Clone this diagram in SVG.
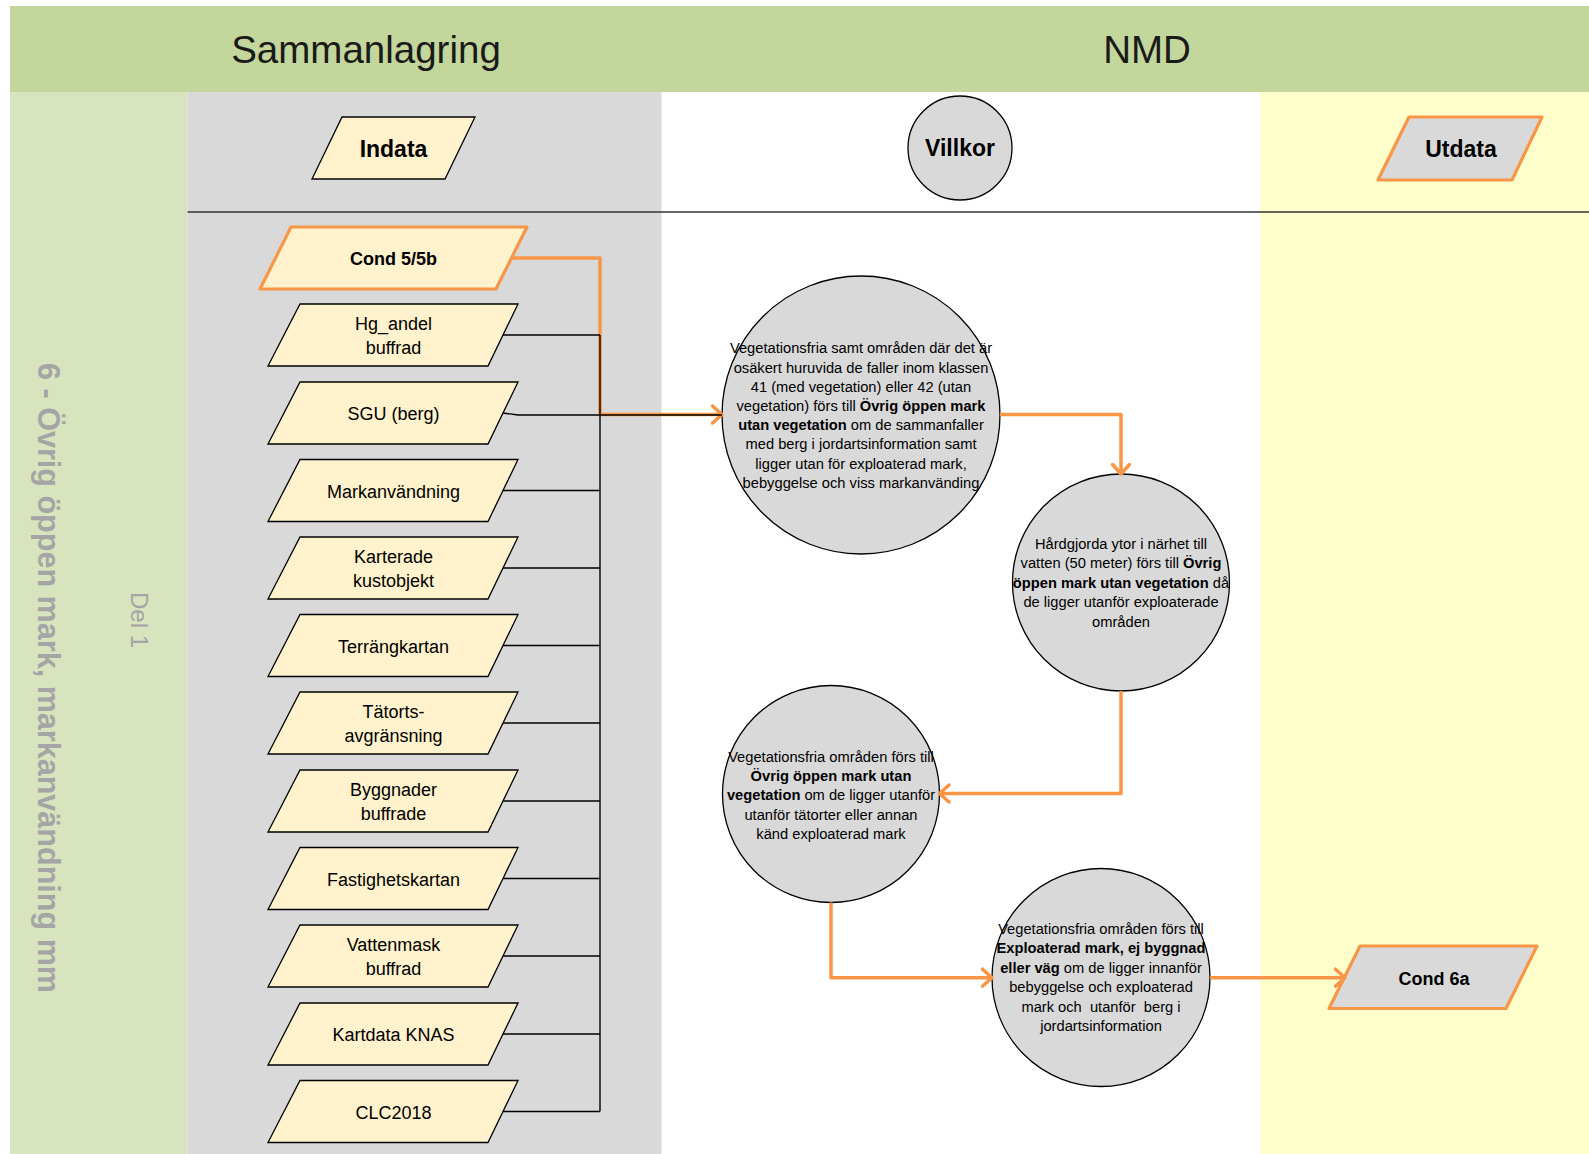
<svg xmlns="http://www.w3.org/2000/svg" width="1589" height="1154" viewBox="0 0 1589 1154">
<defs>
<style>
text{font-family:"Liberation Sans",Arial,sans-serif;fill:#000}
.hdr{font-size:38.5px;text-anchor:middle;fill:#1a1a1a}
.in{fill:#FFF2CC;stroke:#000;stroke-width:1.3}
.inor{fill:#FFF2CC;stroke:#F79646;stroke-width:3.2;stroke-linejoin:round}
.out{fill:#D9D9D9;stroke:#F79646;stroke-width:3.2;stroke-linejoin:round}
.lbl{font-size:18px;text-anchor:middle}
.big{font-size:23px;font-weight:bold;text-anchor:middle}
.circ{fill:#D9D9D9;stroke:#000;stroke-width:1.3}
.ct{font-size:14.7px;text-anchor:middle}
.b{font-weight:bold}
.bus{fill:none;stroke:#000;stroke-width:1.4}
.flow{fill:none;stroke:#F79646;stroke-width:3.5;stroke-linejoin:round}
.side{fill:#A5A5A5;text-anchor:middle}
</style>
<marker id="ah" markerUnits="userSpaceOnUse" markerWidth="16" markerHeight="24" refX="11" refY="10" orient="auto" overflow="visible">
<path d="M1.5,1.5 L11,10 L1.5,18.5" fill="none" stroke="#F79646" stroke-width="3.5" stroke-linecap="round" stroke-linejoin="round"/>
</marker>
</defs>
<g id="background">
<rect x="0" y="0" width="1589" height="1154" fill="#FFFFFF"/>
<rect x="10" y="6" width="1579" height="86" fill="#C3D69B"/>
<rect x="10" y="92" width="177.5" height="1062" fill="#D7E4BD"/>
<rect x="187.5" y="92" width="474" height="1062" fill="#D9D9D9"/>
<rect x="1260" y="92" width="329" height="1062" fill="#FFFFCC"/>
<line x1="187.5" y1="212" x2="1589" y2="212" stroke="#333" stroke-width="1.5"/>
<text class="hdr" x="366" y="63">Sammanlagring</text>
<text class="hdr" x="1147" y="63">NMD</text>
<text class="side" transform="translate(38,678) rotate(90)" font-size="32" font-weight="bold" textLength="630" lengthAdjust="spacingAndGlyphs">6 - Övrig öppen mark, markanvändning mm</text>
<text class="side" transform="translate(131,620) rotate(90)" font-size="24">Del 1</text>
</g>
<g id="indata">
<polygon class="in" points="342,117 475,117 445,179 312,179"/>
<text class="big" x="393.5" y="157">Indata</text>
</g>
<g id="villkor">
<circle class="circ" cx="960" cy="148" r="52"/>
<text class="big" x="960" y="156">Villkor</text>
</g>
<g id="utdata">
<polygon class="out" points="1409,117 1542,117 1512,180 1378,180"/>
<text class="big" x="1461" y="157">Utdata</text>
</g>
<g id="cond55b">
<polygon class="inor" points="291,227 527,227 496,289 260,289"/>
<text class="lbl b" x="393.5" y="264.5">Cond 5/5b</text>
</g>
<g id="hg_andel">
<polygon class="in" points="300,304 518,304 488,366 268,366"/>
<text class="lbl" x="393.5" y="330">Hg_andel</text>
<text class="lbl" x="393.5" y="354">buffrad</text>
</g>
<g id="sgu">
<polygon class="in" points="300,382 518,382 488,444 268,444"/>
<text class="lbl" x="393.5" y="420">SGU (berg)</text>
</g>
<g id="markanvandning">
<polygon class="in" points="300,459.5 518,459.5 488,521.5 268,521.5"/>
<text class="lbl" x="393.5" y="497.5">Markanvändning</text>
</g>
<g id="karterade">
<polygon class="in" points="300,537 518,537 488,599 268,599"/>
<text class="lbl" x="393.5" y="563">Karterade</text>
<text class="lbl" x="393.5" y="587">kustobjekt</text>
</g>
<g id="terrangkartan">
<polygon class="in" points="300,614.5 518,614.5 488,676.5 268,676.5"/>
<text class="lbl" x="393.5" y="652.5">Terrängkartan</text>
</g>
<g id="tatorts">
<polygon class="in" points="300,692 518,692 488,754 268,754"/>
<text class="lbl" x="393.5" y="718">Tätorts-</text>
<text class="lbl" x="393.5" y="742">avgränsning</text>
</g>
<g id="byggnader">
<polygon class="in" points="300,770 518,770 488,832 268,832"/>
<text class="lbl" x="393.5" y="796">Byggnader</text>
<text class="lbl" x="393.5" y="820">buffrade</text>
</g>
<g id="fastighetskartan">
<polygon class="in" points="300,847.5 518,847.5 488,909.5 268,909.5"/>
<text class="lbl" x="393.5" y="885.5">Fastighetskartan</text>
</g>
<g id="vattenmask">
<polygon class="in" points="300,925 518,925 488,987 268,987"/>
<text class="lbl" x="393.5" y="951">Vattenmask</text>
<text class="lbl" x="393.5" y="975">buffrad</text>
</g>
<g id="kartdata">
<polygon class="in" points="300,1003 518,1003 488,1065 268,1065"/>
<text class="lbl" x="393.5" y="1041">Kartdata KNAS</text>
</g>
<g id="clc2018">
<polygon class="in" points="300,1080.5 518,1080.5 488,1142.5 268,1142.5"/>
<text class="lbl" x="393.5" y="1118.5">CLC2018</text>
</g>
<g id="villkor1">
<circle class="circ" cx="861" cy="415" r="139"/>
<text class="ct"><tspan x="861" y="353.3">Vegetationsfria samt områden där det är</tspan><tspan x="861" y="372.5">osäkert huruvida de faller inom klassen</tspan><tspan x="861" y="391.7">41 (med vegetation) eller 42 (utan</tspan><tspan x="861" y="410.9">vegetation) förs till <tspan class="b">Övrig öppen mark</tspan></tspan><tspan x="861" y="430.1"><tspan class="b">utan vegetation</tspan> om de sammanfaller</tspan><tspan x="861" y="449.3">med berg i jordartsinformation samt</tspan><tspan x="861" y="468.5">ligger utan för exploaterad mark,</tspan><tspan x="861" y="487.7">bebyggelse och viss markanvänding</tspan></text>
</g>
<g id="villkor2">
<circle class="circ" cx="1121" cy="582.5" r="108.5"/>
<text class="ct"><tspan x="1121" y="549">Hårdgjorda ytor i närhet till</tspan><tspan x="1121" y="568.4">vatten (50 meter) förs till <tspan class="b">Övrig</tspan></tspan><tspan x="1121" y="587.8"><tspan class="b">öppen mark utan vegetation</tspan> då</tspan><tspan x="1121" y="607.2">de ligger utanför exploaterade</tspan><tspan x="1121" y="626.6">områden</tspan></text>
</g>
<g id="villkor3">
<circle class="circ" cx="831" cy="794" r="108.5"/>
<text class="ct"><tspan x="831" y="761.7">Vegetationsfria områden förs till</tspan><tspan x="831" y="781"><tspan class="b">Övrig öppen mark utan</tspan></tspan><tspan x="831" y="800.3"><tspan class="b">vegetation</tspan> om de ligger utanför</tspan><tspan x="831" y="819.6">utanför tätorter eller annan</tspan><tspan x="831" y="838.9">känd exploaterad mark</tspan></text>
</g>
<g id="villkor4">
<circle class="circ" cx="1101" cy="977.5" r="109"/>
<text class="ct"><tspan x="1101" y="933.7">Vegetationsfria områden förs till</tspan><tspan x="1101" y="953.2"><tspan class="b">Exploaterad mark, ej byggnad</tspan></tspan><tspan x="1101" y="972.7"><tspan class="b">eller väg</tspan> om de ligger innanför</tspan><tspan x="1101" y="992.2">bebyggelse och exploaterad</tspan></text>
<text class="ct" x="1101" y="1011.7" xml:space="preserve">mark och  utanför  berg i</text>
<text class="ct" x="1101" y="1031.2">jordartsinformation</text>
</g>
<g id="cond6a">
<polygon class="out" points="1360,946 1537,946 1506,1008.5 1329,1008.5"/>
<text class="lbl b" x="1434" y="984.5">Cond 6a</text>
</g>
<g id="connectors">
<path class="flow" d="M511.5,258 H600 V414.5 H722" marker-end="url(#ah)"/>
<path class="bus" d="M600,335 V1111.5 M503,335 H600 M503,413 L518,415 H722 M503,490.5 H600 M503,568 H600 M503,645.5 H600 M503,723 H600 M503,801 H600 M503,878.5 H600 M503,956 H600 M503,1034 H600 M503,1111.5 H600"/>
<path class="flow" d="M1000,414.5 H1121 V474" marker-end="url(#ah)"/>
<path class="flow" d="M1121,691 V793.5 H939.5" marker-end="url(#ah)"/>
<path class="flow" d="M831,902.5 V977.7 H992" marker-end="url(#ah)"/>
<path class="flow" d="M1210,977.7 H1345" marker-end="url(#ah)"/>
</g>
</svg>
